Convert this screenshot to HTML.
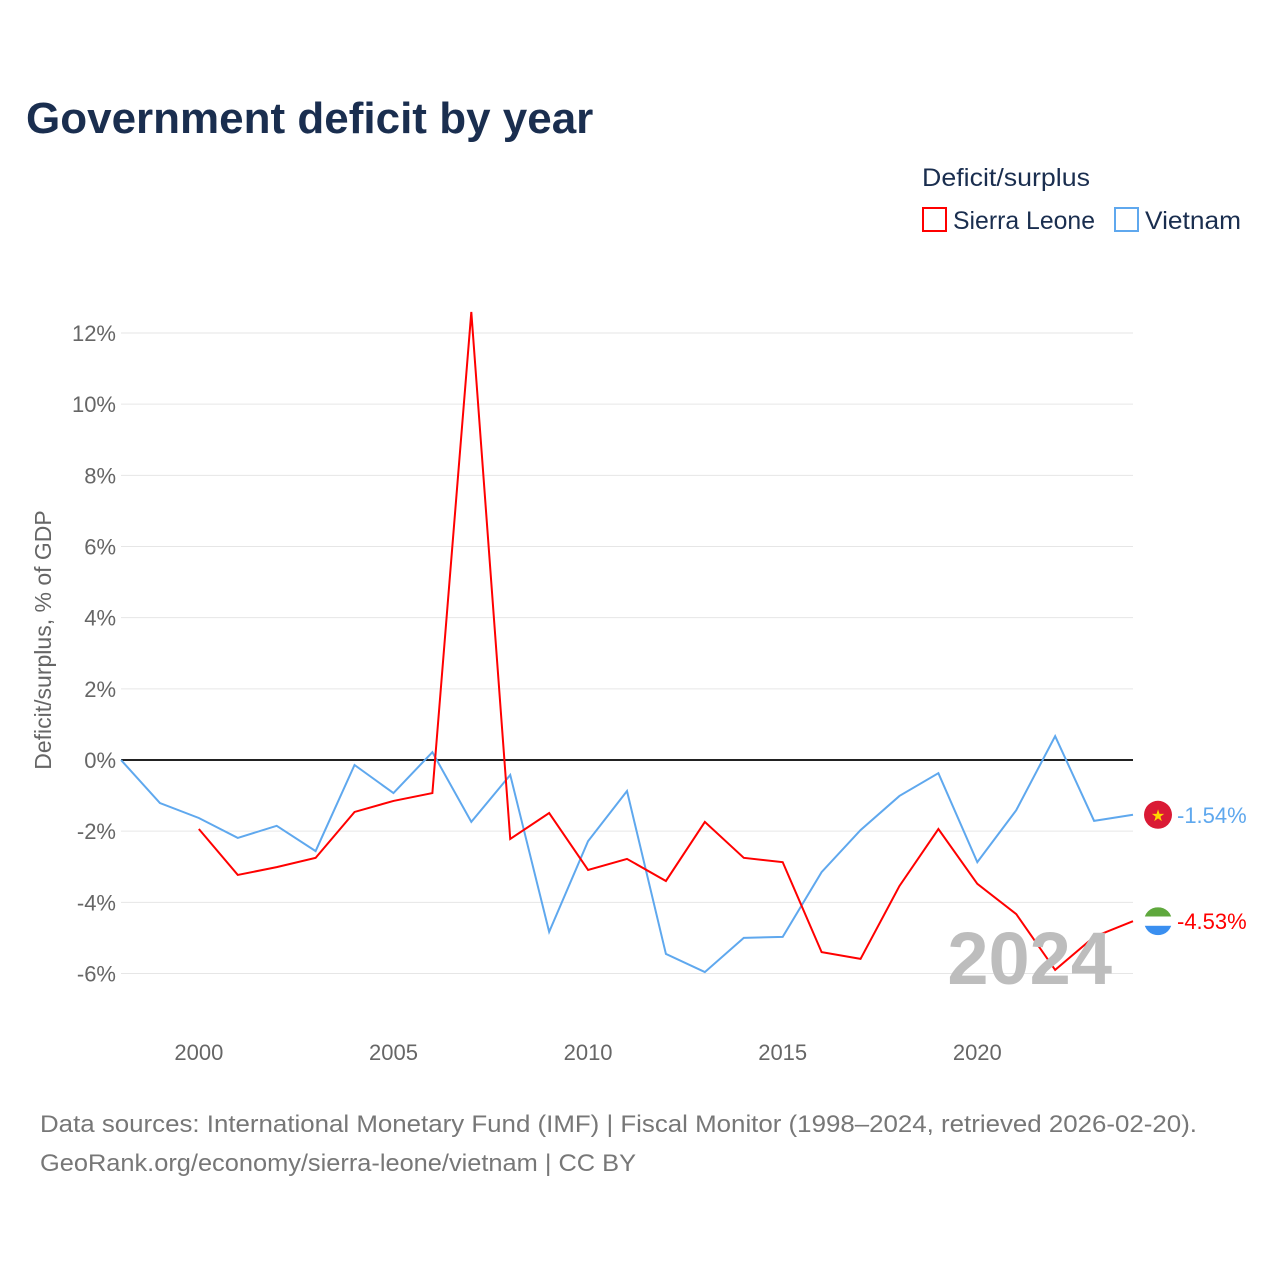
<!DOCTYPE html>
<html><head><meta charset="utf-8"><style>
body{margin:0;background:#fff;font-family:"Liberation Sans",sans-serif;}
svg text{font-family:"Liberation Sans",sans-serif;}
</style></head><body>
<svg id="chart" width="1280" height="1280" xmlns="http://www.w3.org/2000/svg">
<rect width="1280" height="1280" fill="#fff"/>
<text x="26" y="133" font-size="44" font-weight="bold" fill="#1a2e4f">Government deficit by year</text>
<text x="922" y="186" font-size="25" fill="#1a2e4f" textLength="168" lengthAdjust="spacingAndGlyphs">Deficit/surplus</text>
<rect x="923" y="208" width="23" height="23" fill="none" stroke="#ff0000" stroke-width="2"/>
<text x="953" y="229" font-size="25" fill="#1a2e4f" textLength="142" lengthAdjust="spacingAndGlyphs">Sierra Leone</text>
<rect x="1115" y="208" width="23" height="23" fill="none" stroke="#5fa8ee" stroke-width="2"/>
<text x="1145" y="229" font-size="25" fill="#1a2e4f" textLength="96" lengthAdjust="spacingAndGlyphs">Vietnam</text>
<text transform="translate(51,640) rotate(-90)" text-anchor="middle" font-size="23" fill="#666">Deficit/surplus, % of GDP</text>
<g id="grid"></g><g id="series"></g>
<text x="1112" y="984" text-anchor="end" font-size="74" font-weight="bold" fill="#bdbdbd">2024</text>
<text x="40" y="1132" font-size="24" fill="#777" textLength="1157" lengthAdjust="spacingAndGlyphs">Data sources: International Monetary Fund (IMF) | Fiscal Monitor (1998–2024, retrieved 2026-02-20).</text>
<text x="40" y="1171" font-size="24" fill="#777" textLength="596" lengthAdjust="spacingAndGlyphs">GeoRank.org/economy/sierra-leone/vietnam | CC BY</text>
</svg>
<script>
const years=[1998,1999,2000,2001,2002,2003,2004,2005,2006,2007,2008,2009,2010,2011,2012,2013,2014,2015,2016,2017,2018,2019,2020,2021,2022,2023,2024];
const vietnam=[0,-1.21,-1.63,-2.19,-1.85,-2.56,-0.14,-0.93,0.22,-1.74,-0.42,-4.83,-2.28,-0.87,-5.45,-5.96,-5.0,-4.97,-3.15,-1.97,-1.01,-0.37,-2.87,-1.41,0.67,-1.71,-1.54];
const sierraLeone=[null,null,-1.94,-3.23,-3.01,-2.75,-1.46,-1.15,-0.93,12.59,-2.22,-1.49,-3.09,-2.78,-3.40,-1.74,-2.75,-2.87,-5.40,-5.59,-3.54,-1.94,-3.48,-4.33,-5.90,-4.97,-4.53];
const yTicks=[-6,-4,-2,0,2,4,6,8,10,12];
const xTicks=[2000,2005,2010,2015,2020];
const NS="http://www.w3.org/2000/svg";
const X=v=>121+(v-1998)*(1133-121)/26;
const Y=v=>760-v*(760-333)/12;
function mk(t,a,p){const e=document.createElementNS(NS,t);for(const k in a)e.setAttribute(k,a[k]);p.appendChild(e);return e;}
const g=document.getElementById('grid'),s=document.getElementById('series');
yTicks.forEach(t=>{
 const l=mk('line',{x1:121,x2:1133,y1:Y(t),y2:Y(t),stroke:t===0?'#222':'#e6e6e6','stroke-width':t===0?2:1},g);
 
 
 const tx=mk('text',{x:116,y:Y(t)+8,'text-anchor':'end','font-size':22,fill:'#666'},g);tx.textContent=t+'%';
 
 
});
xTicks.forEach(t=>{
 const tx=mk('text',{x:X(t),y:1060,'text-anchor':'middle','font-size':22,fill:'#666'},g);tx.textContent=t;
 
 
});
function line(data,color,name){
 let d='';data.forEach((v,i)=>{if(v===null)return;d+=(d?'L':'M')+X(years[i])+' '+Y(v)+' ';});
 const p=mk('path',{d:d,fill:'none',stroke:color,'stroke-width':2},s);
 
 
}
line(vietnam,'#5fa8ee','vietnam-line');
line(sierraLeone,'#ff0000','sierra-leone-line');
const lv=vietnam[vietnam.length-1],ls=sierraLeone[sierraLeone.length-1];
const fv=mk('circle',{cx:1158,cy:Y(lv),r:14,fill:'#da1a35'},s);


const st=mk('text',{x:1158,y:Y(lv)+6,'text-anchor':'middle','font-size':16,fill:'#ffd700'},s);st.textContent='★';
const cy=Y(ls);
const fs=mk('g',{},s);


mk('clipPath',{id:'fc'},fs).appendChild(document.createElementNS(NS,'circle'));
const cc=fs.querySelector('clipPath circle');cc.setAttribute('cx',1158);cc.setAttribute('cy',cy);cc.setAttribute('r',14);
mk('rect',{x:1144,y:cy-14,width:28,height:9.3,fill:'#5fa83d','clip-path':'url(#fc)'},fs);
mk('rect',{x:1144,y:cy-4.7,width:28,height:9.3,fill:'#fff','clip-path':'url(#fc)'},fs);
mk('rect',{x:1144,y:cy+4.6,width:28,height:9.4,fill:'#3a8ff0','clip-path':'url(#fc)'},fs);
const t1=mk('text',{x:1177,y:Y(lv)+8,'font-size':22,fill:'#5fa8ee'},s);t1.textContent=lv.toFixed(2)+'%';


const t2=mk('text',{x:1177,y:cy+8,'font-size':22,fill:'#ff0000'},s);t2.textContent=ls.toFixed(2)+'%';


</script>
</body></html>
